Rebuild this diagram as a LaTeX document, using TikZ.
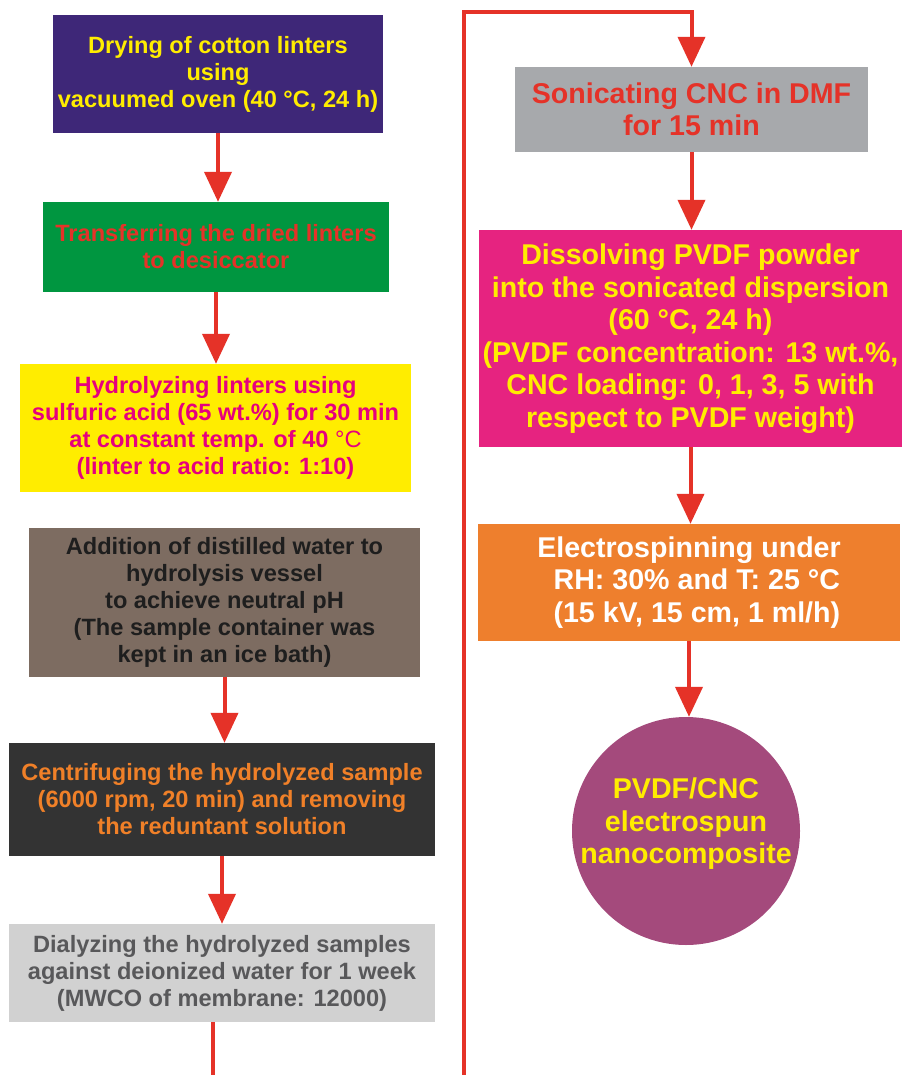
\documentclass[tikz,border=0pt]{standalone}
\usepackage{fontspec}
\setmainfont{Liberation Sans}
\usetikzlibrary{arrows.meta}
\definecolor{arrowred}{RGB}{229,50,40}
\definecolor{dryblue}{RGB}{62,39,120}
\definecolor{transgreen}{RGB}{0,150,64}
\definecolor{hyyellow}{RGB}{255,237,0}
\definecolor{hymagenta}{RGB}{230,0,126}
\definecolor{waterbrown}{RGB}{125,108,97}
\definecolor{waterblack}{RGB}{30,30,30}
\definecolor{centdark}{RGB}{51,51,51}
\definecolor{centorange}{RGB}{240,128,40}
\definecolor{diallight}{RGB}{209,209,209}
\definecolor{dialtext}{RGB}{88,88,90}
\definecolor{sonicgray}{RGB}{167,169,172}
\definecolor{dissmagenta}{RGB}{230,35,128}
\definecolor{elecorange}{RGB}{238,127,45}
\definecolor{prodpurple}{RGB}{164,74,124}

\begin{document}
\begin{tikzpicture}[x=1pt,y=-1pt,
  box/.style={rectangle,inner sep=0pt,align=center,font=\fontsize{23.6}{27}\selectfont\bfseries},
  bigbox/.style={box,font=\fontsize{28.6}{32.5}\selectfont\bfseries},
  flow/.style={draw=arrowred,line width=4pt,-{Stealth[inset=0pt,length=30pt,width=27pt]}}]
  \fill[white] (0,0) rectangle (903,1075);
  \useasboundingbox (0,0) rectangle (903,1075);

  \node (dry) [box,fill=dryblue,text=hyyellow,minimum width=330pt,minimum height=118pt] at (218,74)
    {Drying of cotton linters\\using\\vacuumed oven (40 °C, 24 h)};
  \node (trans) [box,fill=transgreen,text=arrowred,minimum width=346pt,minimum height=90pt] at (216,247)
    {Transferring the dried linters\\to desiccator};
  \node (hydro) [box,fill=hyyellow,text=hymagenta,minimum width=391pt,minimum height=128pt] at (215.5,428)
    {Hydrolyzing linters using\\sulfuric acid (65 wt.\%) for 30 min\\at constant temp. of 40 {\mdseries °C}\\(linter to acid ratio: 1:10)};
  \node (water) [box,fill=waterbrown,text=waterblack,minimum width=391pt,minimum height=149pt] at (224.5,602.5)
    {Addition of distilled water to\\hydrolysis vessel\\to achieve neutral pH\\(The sample container was\\kept in an ice bath)};
  \node (centri) [box,fill=centdark,text=centorange,minimum width=426pt,minimum height=113pt] at (222,799.5)
    {Centrifuging the hydrolyzed sample\\(6000 rpm, 20 min) and removing\\the reduntant solution};
  \node (dial) [box,fill=diallight,text=dialtext,minimum width=426pt,minimum height=98pt] at (222,973)
    {Dialyzing the hydrolyzed samples\\against deionized water for 1 week\\(MWCO of membrane: 12000)};

  \node (sonic) [bigbox,fill=sonicgray,text=arrowred,minimum width=353pt,minimum height=85pt] at (691.5,109.5)
    {Sonicating CNC in DMF\\for 15 min};
  \node (diss) [bigbox,fill=dissmagenta,text=hyyellow,minimum width=423pt,minimum height=217pt] at (690.5,338.5)
    {Dissolving PVDF powder\\into the sonicated dispersion\\(60 °C, 24 h)\\(PVDF concentration: 13 wt.\%,\\CNC loading: 0, 1, 3, 5 with\\respect to PVDF weight)};
  \node (elec) [bigbox,fill=elecorange,text=white,minimum width=422pt,minimum height=117pt] at (689,582.5)
    {Electrospinning under\\\hspace*{0.55em}RH: 30\% and T: 25 °C\\\hspace*{0.55em}(15 kV, 15 cm, 1 ml/h)};
  \node (prod) [bigbox,circle,fill=prodpurple,text=hyyellow,minimum size=228pt,inner sep=-5pt,text depth=20pt] at (686,831)
    {PVDF/CNC\\electrospun\\nanocomposite};

  \coordinate (low) at (464,1079);
  \coordinate (turn) at (464,12);

  \draw[flow] (dry.south) -- (dry.south |- trans.north);
  \draw[flow] (trans.south) -- (trans.south |- hydro.north);
  \draw[flow] (water.south) -- (water.south |- centri.north);
  \draw[flow] (centri.south) -- (centri.south |- dial.north);
  \draw[flow] ([xshift=-9pt]dial.south) |- (low) -- (turn) -| (sonic.north);
  \draw[flow] (sonic.south) -- (sonic.south |- diss.north);
  \draw[flow] (diss.south) -- (diss.south |- elec.north);
  \draw[flow] (elec.south) -- (elec.south |- prod.north);
\end{tikzpicture}
\end{document}
